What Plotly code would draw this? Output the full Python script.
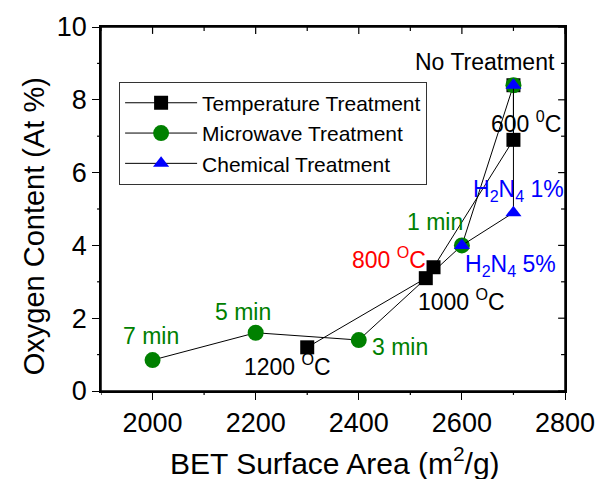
import plotly.graph_objects as go

# Oxygen content vs. BET surface area for three activation treatments
temp_x = [2700, 2700, 2545, 2530, 2300]
temp_y = [8.4, 6.9, 3.4, 3.1, 1.2]

micro_x = [2700, 2600, 2400, 2200, 2000]
micro_y = [8.4, 4.0, 1.4, 1.6, 0.85]

chem_x = [2700, 2700, 2600]
chem_y = [8.4, 4.9, 4.0]

x_ticks = [2000, 2200, 2400, 2600, 2800]
x_minor = [1900, 2100, 2300, 2500, 2700]
y_ticks = [0, 2, 4, 6, 8, 10]
y_minor = [1, 3, 5, 7, 9]

GREEN = "#008000"
BLUE = "#0000FF"
RED = "#FF0000"
FONT = "Arial, Liberation Sans, sans-serif"

# point labels: text, x, y, colour
point_labels = [
    ("No Treatment", 2644, 9.03, "black"),
    ("600 <sup>0</sup>C", 2725, 7.40, "black"),
    ("H<sub>2</sub>N<sub>4</sub> 1%", 2709, 5.50, BLUE),
    ("H<sub>2</sub>N<sub>4</sub> 5%", 2694, 3.45, BLUE),
    ("1 min", 2548, 4.64, GREEN),
    ("800 <sup>O</sup>C", 2459, 3.66, RED),
    ("1000 <sup>O</sup>C", 2600, 2.50, "black"),
    ("1200 <sup>O</sup>C", 2261, 0.72, "black"),
    ("7 min", 1997, 1.50, GREEN),
    ("5 min", 2175, 2.18, GREEN),
    ("3 min", 2480, 1.20, GREEN),
]

W, H = 607, 479
MARGIN = dict(l=101, r=34, t=22, b=88)
PLOT_W = W - MARGIN["l"] - MARGIN["r"]
PLOT_H = H - MARGIN["t"] - MARGIN["b"]

fig = go.Figure()

fig.add_trace(go.Scatter(
    x=temp_x, y=temp_y, mode="lines+markers", name="Temperature Treatment",
    line=dict(color="black", width=1),
    marker=dict(symbol="square", size=14, color="black"),
))
fig.add_trace(go.Scatter(
    x=micro_x, y=micro_y, mode="lines+markers", name="Microwave Treatment",
    line=dict(color="black", width=1),
    marker=dict(symbol="circle", size=16, color=GREEN),
))
fig.add_trace(go.Scatter(
    x=chem_x, y=chem_y, mode="lines+markers", name="Chemical Treatment",
    line=dict(color="black", width=1),
    marker=dict(symbol="triangle-up", size=14, color=BLUE),
))

for text, lx, ly, col in point_labels:
    fig.add_annotation(x=lx, y=ly, xref="x", yref="y", text=text, showarrow=False,
                       xanchor="center", yanchor="middle",
                       font=dict(family=FONT, size=23, color=col))

# axis titles
fig.add_annotation(x=0.5047, y=-0.193, xref="paper", yref="paper",
                   text="BET Surface Area (m<sup>2</sup>/g)", showarrow=False,
                   xanchor="center", yanchor="middle",
                   font=dict(family=FONT, size=30, color="black"))
fig.add_annotation(x=-0.144, y=0.453, xref="paper", yref="paper",
                   text="Oxygen Content (At %)", showarrow=False, textangle=-90,
                   xanchor="center", yanchor="middle",
                   font=dict(family=FONT, size=29, color="black"))

# plot frame
fig.add_shape(type="rect", xref="paper", yref="paper", x0=0, x1=1, y0=0, y1=1,
              line=dict(color="black", width=1.5), fillcolor="rgba(0,0,0,0)",
              layer="above")

# frame ticks: short outward minor ticks on bottom/left,
# inward major and minor ticks on the top/right edges
tick_style = dict(color="black", width=1.2)
for xv in x_minor:
    fig.add_shape(type="line", xref="x", yref="paper", x0=xv, x1=xv,
                  y0=0, y1=-4 / PLOT_H, line=tick_style, layer="above")
for yv in y_minor:
    fig.add_shape(type="line", xref="paper", yref="y", y0=yv, y1=yv,
                  x0=0, x1=-4 / PLOT_W, line=tick_style, layer="above")
for xv, ln in [(v, 7) for v in x_ticks] + [(v, 4) for v in x_minor]:
    fig.add_shape(type="line", xref="x", yref="paper", x0=xv, x1=xv,
                  y0=1, y1=1 - ln / PLOT_H, line=tick_style, layer="above")
for yv, ln in [(v, 7) for v in y_ticks] + [(v, 4) for v in y_minor]:
    fig.add_shape(type="line", xref="paper", yref="y", y0=yv, y1=yv,
                  x0=1, x1=1 - ln / PLOT_W, line=tick_style, layer="above")

axis_common = dict(showgrid=False, zeroline=False, showline=True, mirror=True,
                   linecolor="black", linewidth=1.5, tickcolor="black")

fig.update_layout(
    width=W, height=H,
    margin=MARGIN,
    paper_bgcolor="white", plot_bgcolor="white",
    font=dict(family=FONT, color="black"),
    showlegend=True,
    legend=dict(x=0.039, y=0.850, xanchor="left", yanchor="top",
                bgcolor="white", bordercolor="#333333", borderwidth=1,
                font=dict(family=FONT, size=21, color="black"),
                itemwidth=72, tracegroupgap=0),
    xaxis=dict(range=[1900, 2800], tickvals=x_ticks, ticks="outside", ticklen=7,
               tickwidth=1.2, tickfont=dict(family=FONT, size=27),
               **axis_common),
    yaxis=dict(range=[0, 10], tickvals=y_ticks, ticks="outside", ticklen=7,
               tickwidth=1.2, tickfont=dict(family=FONT, size=27),
               **axis_common),
)

fig.write_html("out.html")
